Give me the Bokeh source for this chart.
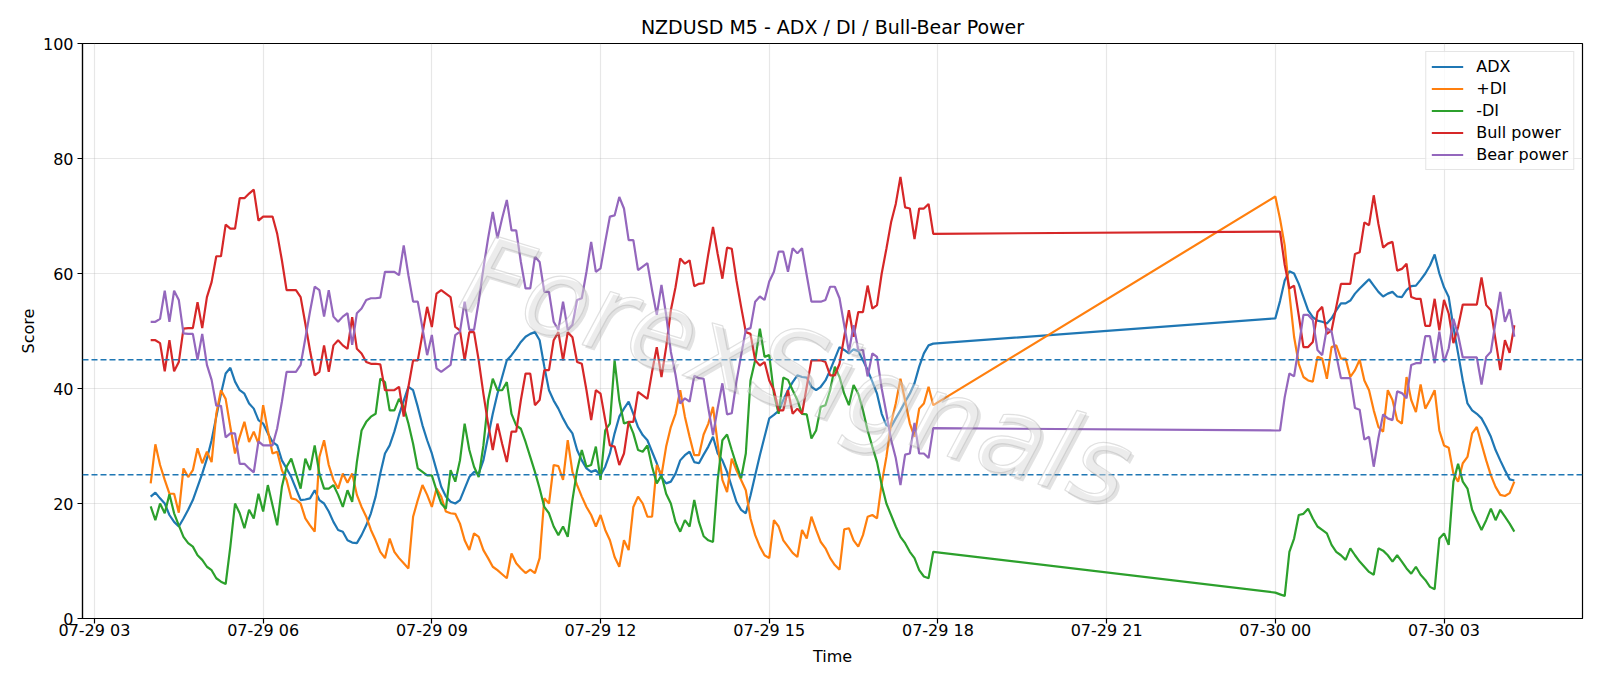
import pandas as pd
from bokeh.plotting import figure
from bokeh.models import (ColumnDataSource, Range1d, Span, Legend, LegendItem, Label,
                          FixedTicker, DatetimeTickFormatter)
from bokeh.embed import file_html
from bokeh.resources import INLINE

# ---- sampling: two M5 sessions, joined straight across the overnight gap ----
SESSION_1 = ("2025-07-29 04:00", "2025-07-29 17:55")
SESSION_2 = ("2025-07-30 00:00", "2025-07-30 04:15")
BAR = "5min"

# ---- indicator values (session 1 followed by session 2) ----
adx = [
    21.2, 21.9, 20.9, 20.0, 18.0, 16.8, 16.0, 17.4, 18.9, 20.6, 22.9, 25.2, 27.8, 31.0, 35.1,
    39.1, 42.6, 43.6, 41.2, 39.7, 39.1, 37.4, 36.5, 34.5, 33.9, 32.2, 30.7, 30.1, 27.5,
    26.1, 24.6, 22.6, 20.6, 20.7, 20.9, 22.3, 20.6, 20.0, 18.6, 16.8, 15.4, 15.1, 13.6, 13.2,
    13.1, 14.5, 16.2, 18.3, 21.2, 25.2, 28.7, 30.1, 32.5, 35.4, 37.9, 40.3, 39.7, 36.8, 33.6,
    31.0, 28.7, 25.8, 22.9, 21.2, 20.3, 20.0, 20.6, 22.6, 24.6, 25.5, 25.2, 27.5, 31.6, 35.6,
    39.1, 42.0, 44.9, 45.8, 46.9, 48.1, 49.0, 49.5, 49.8, 48.4, 43.8, 39.7, 37.9, 36.5, 34.8,
    33.3, 32.2, 29.3, 27.5, 26.1, 25.5, 25.8, 24.9, 26.4, 28.7, 32.2, 35.1, 36.5, 37.7, 35.6,
    33.3, 31.9, 31.0, 29.0, 27.0, 24.6, 23.5, 23.8, 25.2, 27.5, 28.4, 29.0, 27.2, 27.0, 28.5,
    29.9, 31.6, 28.7, 27.5, 25.5, 22.9, 20.3, 18.9, 18.3, 21.4, 24.9, 28.4, 31.6, 34.8, 35.4,
    36.1, 38.0, 39.7, 41.1, 42.3, 42.0, 41.9, 40.3, 39.7, 40.3, 41.4, 43.2, 45.2, 47.2, 46.7,
    46.1, 46.8, 46.5, 44.9, 43.2, 41.2, 39.1, 35.6, 33.6, 33.3, 34.8, 36.2, 37.7, 39.1, 40.9,
    43.8, 46.1, 47.5, 47.8,
    52.2, 55.2, 58.8, 60.4, 60.0, 58.2, 55.9, 53.6, 52.4, 51.8, 51.6, 51.3, 52.2, 53.6, 54.8,
    54.8, 55.3, 56.5, 57.4, 58.2, 59.0, 57.9, 56.8, 56.0, 56.5, 56.8, 56.0, 55.9, 57.1, 57.8,
    57.9, 58.9, 60.0, 61.4, 63.3, 60.0, 57.6, 55.9, 50.7, 46.1, 41.4, 37.4, 36.2, 35.6, 34.8,
    33.3, 31.6, 29.3, 27.5, 25.8, 24.2, 24.0,
]

plus_di = [
    23.5, 30.3, 26.7, 24.1, 21.7, 21.7, 18.4, 26.1, 24.6, 25.8, 29.6, 27.0, 29.0, 27.2, 35.6,
    39.7, 38.2, 33.3, 28.7, 31.6, 34.2, 30.7, 32.5, 30.4, 37.1, 32.7, 28.7, 29.0, 25.8,
    24.1, 20.9, 20.7, 20.0, 17.4, 16.2, 15.1, 28.1, 31.0, 26.7, 24.1, 22.6, 25.2, 23.6, 25.2,
    21.5, 19.4, 17.7, 15.4, 13.6, 11.6, 10.5, 13.9, 11.6, 10.5, 9.6, 8.7, 17.7, 20.6, 23.2,
    21.5, 19.4, 22.6, 21.2, 18.6, 18.3, 18.2, 16.5, 13.6, 11.9, 14.8, 14.2, 11.9, 10.5, 9.0,
    8.4, 7.7, 7.0, 11.3, 9.6, 8.7, 7.9, 8.5, 7.9, 10.5, 20.9, 20.0, 26.7, 26.5, 24.1,
    31.0, 25.5, 23.2, 21.2, 19.4, 18.0, 16.0, 18.0, 15.4, 13.6, 10.7, 9.0, 13.6, 11.9, 19.4,
    21.2, 20.0, 17.7, 17.7, 26.7, 24.9, 29.9, 33.3, 35.6, 39.7, 35.1, 31.6, 28.4, 28.4, 32.0,
    33.9, 36.8, 30.4, 24.1, 22.0, 27.8, 25.8, 24.1, 22.3, 17.4, 14.5, 12.5, 11.0, 10.5, 17.1,
    16.0, 13.6, 12.5, 11.4, 10.7, 15.4, 13.9, 17.7, 15.4, 13.3, 12.2, 10.5, 9.3, 8.5, 15.5,
    15.7, 13.6, 12.5, 14.5, 17.7, 18.0, 17.4, 23.5, 28.1, 33.9, 37.4, 41.7, 37.9, 33.9, 31.6,
    36.5, 37.4, 40.3, 37.1,
    73.4, 69.5, 64.9, 56.5, 49.0, 44.3, 42.0, 41.4, 41.2, 45.5, 45.2, 41.7, 47.2, 47.5, 45.2,
    45.2, 42.0, 43.2, 45.0, 41.4, 39.7, 36.2, 33.3, 32.5, 39.7, 38.0, 34.5, 33.9, 42.0, 38.0,
    35.9, 40.7, 36.5, 38.0, 39.7, 32.7, 30.1, 29.7, 25.2, 23.8, 27.0, 28.1, 32.2, 33.3, 30.4,
    27.5, 24.9, 22.9, 21.5, 21.3, 21.8, 23.8,
]

minus_di = [
    19.5, 17.1, 20.0, 18.3, 21.6, 18.3, 16.2, 14.2, 13.1, 12.5, 11.0, 10.2, 9.0, 8.4, 7.0,
    6.4, 6.0, 12.5, 20.0, 18.3, 15.7, 18.9, 17.4, 21.7, 18.6, 23.2, 19.7, 16.2, 22.9,
    26.4, 27.8, 25.2, 22.6, 27.8, 25.8, 30.1, 25.2, 22.6, 22.6, 23.2, 21.5, 19.4, 22.3, 20.3,
    27.2, 32.7, 34.2, 35.1, 35.6, 41.7, 41.1, 36.2, 36.2, 38.2, 36.8, 33.9, 30.4, 26.1, 25.5,
    24.9, 24.9, 22.3, 20.0, 19.1, 25.8, 23.8, 27.5, 33.9, 29.3, 26.4, 24.6, 30.1, 37.9, 41.7,
    39.7, 39.7, 41.1, 35.6, 33.6, 33.0, 30.7, 28.1, 25.5, 22.6, 19.4, 18.3, 16.0, 14.5, 16.0,
    14.2, 20.6, 25.8, 29.3, 26.4, 26.7, 29.9, 24.1, 32.7, 33.9, 44.9, 37.9, 33.9, 34.2, 32.2,
    29.3, 29.0, 30.1, 26.4, 23.5, 24.9, 21.7, 20.0, 16.8, 15.1, 17.1, 16.0, 20.6, 16.8, 14.3,
    13.6, 13.3, 24.1, 31.0, 32.0, 29.3, 26.7, 24.4, 28.7, 41.4, 44.9, 50.4, 45.5, 45.8, 39.1,
    35.6, 41.9, 41.5, 39.7, 38.0, 35.6, 35.5, 31.3, 32.7, 36.8, 37.1, 39.7, 43.8, 42.0, 39.1,
    37.1, 40.6, 39.1, 36.2, 32.7, 29.9, 27.2, 23.2, 20.0, 18.0, 16.0, 14.2, 13.1, 11.6, 10.5,
    8.4, 7.3, 7.0, 11.6,
    4.5, 4.2, 3.9, 11.6, 13.9, 18.0, 18.2, 19.1, 17.4, 16.0, 15.4, 14.8, 12.8, 11.6, 11.0,
    10.2, 12.2, 11.0, 9.9, 9.0, 8.1, 7.6, 12.2, 11.8, 11.0, 9.9, 11.0, 9.9, 8.7, 7.8,
    9.0, 7.6, 6.7, 5.5, 5.1, 13.9, 14.8, 12.8, 23.8, 26.9, 23.8, 22.6, 18.9, 17.1, 15.4,
    17.1, 19.1, 17.1, 18.9, 17.7, 16.5, 15.1,
]

bull_power = [
    48.4, 48.4, 47.9, 43.0, 48.4, 43.0, 44.6, 50.4, 50.5, 50.5, 55.0, 50.5, 55.9, 58.5, 63.0,
    63.0, 68.5, 67.8, 67.8, 73.1, 73.1, 73.9, 74.6, 69.2, 69.9, 69.9, 69.9, 66.9, 62.3,
    57.1, 57.1, 57.1, 55.9, 51.3, 46.6, 42.3, 42.9, 47.5, 42.9, 47.5, 48.4, 47.5, 46.9, 52.4,
    46.9, 46.1, 44.6, 44.3, 44.3, 44.2, 39.7, 39.7, 39.7, 40.3, 35.1, 40.3, 44.9, 44.9, 49.5,
    54.2, 50.7, 56.5, 57.1, 56.5, 55.9, 50.7, 50.1, 44.9, 49.8, 49.8, 44.9, 39.1, 33.9, 29.3,
    33.9, 30.4, 27.2, 32.5, 32.5, 38.0, 42.6, 42.6, 37.1, 38.0, 43.2, 43.2, 48.4, 49.8, 44.9,
    49.8, 48.9, 44.6, 44.3, 39.7, 34.5, 39.7, 39.1, 34.5, 30.1, 29.9, 26.7, 28.7, 34.2, 34.2,
    39.4, 38.8, 38.2, 42.9, 47.2, 42.0, 47.2, 53.6, 57.6, 62.6, 61.7, 62.3, 57.8, 58.2, 58.3,
    63.4, 68.1, 63.4, 59.1, 64.5, 64.3, 58.8, 54.2, 49.8, 49.5, 44.9, 44.0, 44.6, 41.4, 39.7,
    36.2, 36.2, 39.7, 35.6, 36.5, 35.6, 40.3, 44.9, 44.9, 44.9, 44.6, 42.3, 42.3, 44.3, 49.0,
    53.6, 49.0, 53.3, 53.3, 57.9, 53.9, 54.5, 60.0, 64.3, 68.9, 72.1, 76.8, 71.5, 71.3, 66.0,
    71.3, 71.3, 72.1, 66.9,
    67.3, 67.3, 61.5, 57.4, 57.9, 52.7, 47.2, 47.2, 48.1, 53.3, 54.2, 49.5, 50.1, 54.2, 58.2,
    58.2, 58.2, 63.4, 63.7, 68.9, 68.4, 73.6, 68.6, 64.5, 65.2, 65.5, 60.5, 60.8, 61.7, 55.9,
    55.6, 55.6, 50.9, 50.9, 55.6, 50.1, 55.4, 53.0, 47.9, 50.7, 54.6, 54.6, 54.6, 54.6, 59.3,
    54.5, 53.6, 48.4, 43.2, 48.4, 46.2, 51.0,
]

bear_power = [
    51.6, 51.6, 52.1, 57.0, 51.6, 57.0, 55.4, 49.6, 49.5, 49.5, 45.0, 49.5, 44.1, 41.5, 37.0,
    37.0, 31.5, 32.2, 32.2, 26.9, 26.9, 26.1, 25.4, 30.8, 30.1, 30.1, 30.1, 33.1, 37.7,
    42.9, 42.9, 42.9, 44.1, 48.7, 53.4, 57.7, 57.1, 52.5, 57.1, 52.5, 51.6, 52.5, 53.1, 47.6,
    53.1, 53.9, 55.4, 55.7, 55.7, 55.8, 60.3, 60.3, 60.3, 59.7, 64.9, 59.7, 55.1, 55.1, 50.5,
    45.8, 49.3, 43.5, 42.9, 43.5, 44.1, 49.3, 49.9, 55.1, 50.2, 50.2, 55.1, 60.9, 66.1, 70.7,
    66.1, 69.6, 72.8, 67.5, 67.5, 62.0, 57.4, 57.4, 62.9, 62.0, 56.8, 56.8, 51.6, 50.2, 55.1,
    50.2, 51.1, 55.4, 55.7, 60.3, 65.5, 60.3, 60.9, 65.5, 69.9, 70.1, 73.3, 71.3, 65.8, 65.8,
    60.6, 61.2, 61.8, 57.1, 52.8, 58.0, 52.8, 46.4, 42.4, 37.4, 38.3, 37.7, 42.2, 41.8, 41.7,
    36.6, 31.9, 36.6, 40.9, 35.5, 35.7, 41.2, 45.8, 50.2, 50.5, 55.1, 56.0, 55.4, 58.6, 60.3,
    63.8, 63.8, 60.3, 64.4, 63.5, 64.4, 59.7, 55.1, 55.1, 55.1, 55.4, 57.7, 57.7, 55.7, 51.0,
    46.4, 51.0, 46.7, 46.7, 42.1, 46.1, 45.5, 40.0, 35.7, 31.1, 27.9, 23.2, 28.5, 28.7, 34.0,
    28.7, 28.7, 27.9, 33.1,
    32.7, 32.7, 38.5, 42.6, 42.1, 47.3, 52.8, 52.8, 51.9, 46.7, 45.8, 50.5, 49.9, 45.8, 41.8,
    41.8, 41.8, 36.6, 36.3, 31.1, 31.6, 26.4, 31.4, 35.5, 34.8, 34.5, 39.5, 39.2, 38.3, 44.1,
    44.4, 44.4, 49.1, 49.1, 44.4, 49.9, 44.6, 47.0, 52.1, 49.3, 45.4, 45.4, 45.4, 45.4, 40.7,
    45.5, 46.4, 51.6, 56.8, 51.6, 53.8, 49.0,
]

SERIES = ["ADX", "+DI", "-DI", "Bull power", "Bear power"]
COLORS = ["#1f77b4", "#ff7f0e", "#2ca02c", "#d62728", "#9467bd"]
THRESHOLDS = [25, 45]
Y_TICKS = [0, 20, 40, 60, 80, 100]
X_TICK_START, X_TICK_END, X_TICK_STEP = "2025-07-29 03:00", "2025-07-30 03:00", "3h"

FONT = "DejaVu Sans"

times = pd.DatetimeIndex(
    list(pd.date_range(*SESSION_1, freq=BAR)) + list(pd.date_range(*SESSION_2, freq=BAR))
)
source = ColumnDataSource(dict(
    t=times, adx=adx, pdi=plus_di, mdi=minus_di, bull=bull_power, bear=bear_power,
))
columns = ["adx", "pdi", "mdi", "bull", "bear"]

# matplotlib-style 5% margin on the time axis
span = times[-1] - times[0]
x_range = Range1d(times[0] - span * 0.05, times[-1] + span * 0.05)

p = figure(
    width=1600, height=686, x_axis_type="datetime", x_range=x_range, y_range=Range1d(0, 100),
    output_backend="svg", toolbar_location=None,
    min_border_left=82, min_border_right=18, min_border_top=43, min_border_bottom=68,
    background_fill_color="white", border_fill_color="white",
)

p.title.text = "NZDUSD M5 - ADX / DI / Bull-Bear Power"
p.title.align = "center"
p.title.text_font = FONT
p.title.text_font_size = "19px"
p.title.text_font_style = "normal"
p.title.text_color = "black"
p.title.standoff = 12

p.outline_line_color = "black"
p.outline_line_width = 1.2
p.outline_line_alpha = 1.0

tick_ms = [int(ts.value // 10**6) for ts in pd.date_range(X_TICK_START, X_TICK_END, freq=X_TICK_STEP)]
p.xaxis.ticker = FixedTicker(ticks=tick_ms)
fmt = "%m-%d %H"
p.xaxis.formatter = DatetimeTickFormatter(
    milliseconds=fmt, seconds=fmt, minsec=fmt, minutes=fmt, hourmin=fmt, hours=fmt,
    days=fmt, months=fmt, years=fmt,
)
p.yaxis.ticker = FixedTicker(ticks=Y_TICKS)

p.xaxis.axis_label = "Time"
p.yaxis.axis_label = "Score"
for ax in (p.xaxis, p.yaxis):
    ax.axis_label_text_font = FONT
    ax.axis_label_text_font_size = "16px"
    ax.axis_label_text_font_style = "normal"
    ax.axis_label_text_color = "black"
    ax.major_label_text_font = FONT
    ax.major_label_text_font_size = "16px"
    ax.major_label_text_color = "black"
    ax.axis_line_color = "black"
    ax.axis_line_width = 1.2
    ax.major_tick_line_color = "black"
    ax.major_tick_line_width = 1.2
    ax.major_tick_out = 5
    ax.major_tick_in = 0
    ax.minor_tick_line_color = None

p.xaxis.major_label_standoff = -3
p.xaxis.axis_label_standoff = 4
p.yaxis.major_label_standoff = 4
p.yaxis.axis_label_standoff = 2

for g in (p.xgrid, p.ygrid):
    g.grid_line_color = "#b0b0b0"
    g.grid_line_alpha = 0.3
    g.grid_line_width = 1.2

renderers = []
for col, color in zip(columns, COLORS):
    r = p.line("t", col, source=source, line_color=color, line_width=2.2)
    renderers.append(r)

for lvl in THRESHOLDS:
    p.add_layout(Span(location=lvl, dimension="width", line_color="#1f77b4",
                      line_dash="6 3", line_width=1.6))

# watermark across the middle of the plot: soft shadow, then outlined glyphs on top
WATERMARK = "ForexSignals"
wm_time = pd.Timestamp("2025-07-29 15:30")
wm_style = dict(x=wm_time, y=43.0, text=WATERMARK, text_align="center",
                text_baseline="middle", angle=-17, angle_units="deg", text_font=FONT,
                text_font_size="108px", text_font_style="italic")
p.add_layout(Label(x_offset=3, y_offset=-3, text_color="#7a7a7a", text_alpha=0.22, **wm_style))
p.add_layout(Label(text_color="white", text_alpha=0.35, text_outline_color="#a5a5a5", **wm_style))

legend = Legend(
    items=[LegendItem(label=name, renderers=[r]) for name, r in zip(SERIES, renderers)],
    location="top_right", label_text_font=FONT, label_text_font_size="16px",
    label_text_color="black",
    glyph_width=32, glyph_height=15, label_height=15, spacing=3, padding=5,
    label_standoff=13, margin=8, border_line_color="#cccccc", border_line_width=1,
    background_fill_alpha=0.8,
)
p.add_layout(legend)

open("out.html", "w").write(file_html(p, INLINE))
